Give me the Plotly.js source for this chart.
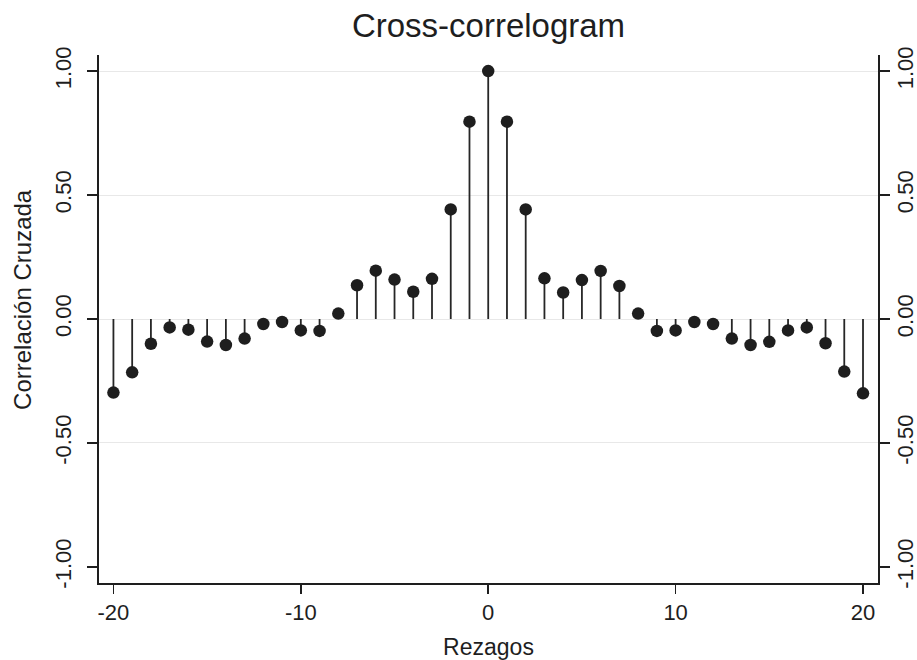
<!DOCTYPE html>
<html>
<head>
<meta charset="utf-8">
<script src="https://cdn.plot.ly/plotly-3.0.1.min.js"></script>
<style>html,body{margin:0;padding:0;background:#fff;}#chart{width:917px;height:660px;}</style>
</head>
<body>
<div id="chart"></div>
<script>
// Data
const lags = [-20,-19,-18,-17,-16,-15,-14,-13,-12,-11,-10,-9,-8,-7,-6,-5,-4,-3,-2,-1,0,1,2,3,4,5,6,7,8,9,10,11,12,13,14,15,16,17,18,19,20];
const xcorr = [-0.297,-0.215,-0.100,-0.034,-0.043,-0.091,-0.105,-0.079,-0.020,-0.012,-0.046,-0.048,0.022,0.136,0.195,0.159,0.110,0.162,0.442,0.796,1.000,0.796,0.442,0.164,0.107,0.157,0.194,0.133,0.022,-0.048,-0.046,-0.012,-0.020,-0.079,-0.105,-0.092,-0.046,-0.034,-0.098,-0.212,-0.300];
const xTickVals = [-20,-10,0,10,20];
const yTickVals = [-1,-0.5,0,0.5,1];
const yTickText = ['-1.00','-0.50','0.00','0.50','1.00'];
const gridVals = [-0.5,0,0.5,1];
const yTitle = 'Correlación Cruzada';
const xTitle = 'Rezagos';
const chartTitle = 'Cross-correlogram';

const stemX = [], stemY = [];
lags.forEach((l,i)=>{ stemX.push(l,l,null); stemY.push(0,xcorr[i],null); });

const ink = '#1e1e1e';
const font = 'Liberation Sans, Arial, Helvetica, sans-serif';
const yr = [-1.065, 1.065];

const traces = [
  {x: stemX, y: stemY, mode:'lines', line:{color:'#262626', width:1.8}, hoverinfo:'skip', showlegend:false},
  {x: lags, y: xcorr, mode:'markers', marker:{color:ink, size:12.5}, showlegend:false},
  {x: [lags[0]], y: [xcorr[0]], yaxis:'y2', mode:'none', hoverinfo:'skip', showlegend:false},
  {x: [lags[0]], y: [xcorr[0]], yaxis:'y3', mode:'none', hoverinfo:'skip', showlegend:false}
];

const yCommon = {
  range: yr, autorange:false, tickmode:'array', tickvals: yTickVals, ticktext: yTickText,
  tickangle:-90, ticks:'outside', ticklen:10, tickwidth:1.6, tickcolor:ink,
  showline:true, linecolor:ink, linewidth:1.7, showgrid:false, zeroline:false,
  tickfont:{family:font, size:22, color:ink}
};

const layout = {
  width:917, height:660,
  margin:{l:99, r:39, t:55, b:77},
  paper_bgcolor:'#fff', plot_bgcolor:'#fff',
  font:{family:font, color:ink},
  title:{text:chartTitle, font:{family:font, size:33, color:ink}, x:0.5, xref:'paper', xanchor:'center', y:0.962, yref:'container', yanchor:'middle'},
  xaxis:{
    range:[-20.77,20.8], autorange:false, tickmode:'array', tickvals:xTickVals, ticktext:xTickVals.map(String),
    ticks:'outside', ticklen:9, tickwidth:1.6, tickcolor:ink,
    showline:true, linecolor:ink, linewidth:1.7, showgrid:false, zeroline:false,
    tickfont:{family:font, size:22, color:ink},
    title:{text:xTitle, font:{family:font, size:23, color:ink}, standoff:17}
  },
  yaxis: Object.assign({}, yCommon, {side:'left', ticklabelstandoff:8}),
  yaxis2: Object.assign({}, yCommon, {overlaying:'y', side:'right', ticklabelstandoff:-3}),
  yaxis3: {range:yr, autorange:false, overlaying:'y', side:'left', tickmode:'array', tickvals:gridVals,
    showticklabels:false, ticks:'', showline:false, zeroline:false, showgrid:true, gridcolor:'#e8e8e8', gridwidth:1},
  annotations:[{text:yTitle, textangle:-90, xref:'paper', yref:'paper', x:-0.0976, y:0.538,
    xanchor:'center', yanchor:'middle', showarrow:false, font:{family:font, size:24, color:ink}}],
  showlegend:false
};

Plotly.newPlot('chart', traces, layout, {staticPlot:true, displayModeBar:false});
</script>
</body>
</html>
